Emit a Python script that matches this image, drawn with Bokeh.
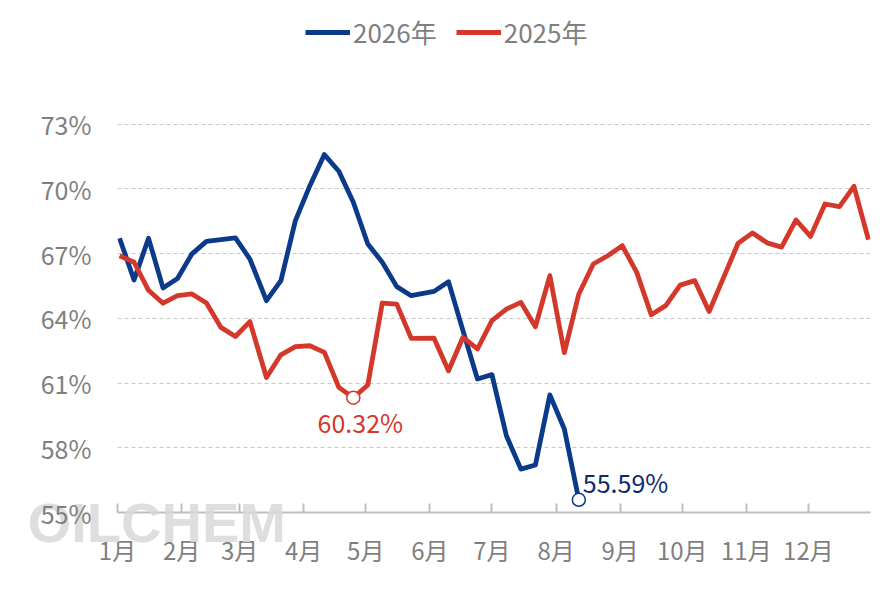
from bokeh.plotting import figure
from bokeh.models import (Range1d, FixedTicker, Legend, LegendItem, ColumnDataSource, LinearAxis)
from bokeh.core.properties import value
from bokeh.embed import file_html
from bokeh.resources import INLINE

# ---- data ----
days = [1, 8, 15, 22, 29, 36, 43, 50, 57, 64, 72, 79, 86, 93, 100, 107, 114, 121,
        128, 135, 142, 153, 160, 167, 174, 181, 188, 195, 202, 209, 216, 223, 230,
        237, 244, 251, 258, 265, 272, 279, 286, 293, 300, 307, 314, 321, 328, 335,
        342, 349, 356, 363]

rate_2025 = [66.90, 66.60, 65.30, 64.70, 65.05, 65.13, 64.71, 63.58, 63.16, 63.85,
             61.26, 62.31, 62.69, 62.73, 62.42, 60.80, 60.32, 60.91, 64.71, 64.66,
             63.07, 63.08, 61.57, 63.12, 62.58, 63.89, 64.43, 64.74, 63.61, 65.98,
             62.41, 65.13, 66.52, 66.90, 67.37, 66.13, 64.17, 64.59, 65.54, 65.75,
             64.32, 65.90, 67.48, 67.96, 67.50, 67.30, 68.56, 67.80, 69.30, 69.18,
             70.12, 67.65]

rate_2026 = [67.71, 65.78, 67.71, 65.41, 65.85, 66.99, 67.57, 67.65, 67.73, 66.75,
             64.82, 65.75, 68.53, 70.15, 71.59, 70.82, 69.38, 67.45, 66.60, 65.47,
             65.05, 65.25, 65.70, 63.43, 61.19, 61.39, 58.56, 57.01, 57.20, 60.45,
             58.87, 55.59]

month_starts = [0, 31, 59, 90, 120, 151, 181, 212, 243, 273, 304, 334]
month_labels = ["1月", "2月", "3月", "4月", "5月", "6月", "7月", "8月", "9月", "10月", "11月", "12月"]
y_ticks = [55, 58, 61, 64, 67, 70, 73]
series_names = ["2026年", "2025年"]
watermark = "OILCHEM"

BLUE = "#0b3a8a"
RED = "#d3382a"
GREY = "#7f7f7f"
FONT = "Noto Sans CJK SC"

# frame spans from the legend row down to the 55% line (headroom above 73% holds the legend)
p = figure(width=886, height=590, output_backend="svg", toolbar_location=None,
           x_range=Range1d(0, 364), y_range=Range1d(55, 78.27),
           min_border_left=117, min_border_right=16, min_border_top=10, min_border_bottom=78)
p.outline_line_color = None
p.background_fill_color = "white"

l_blue = p.line(days[:len(rate_2026)], rate_2026, line_color=BLUE, line_width=4.8, line_join="round")
l_red = p.line(days, rate_2025, line_color=RED, line_width=4.8, line_join="round")

# annotated points
i_min = rate_2025.index(min(rate_2025))
red_pt = ColumnDataSource(dict(x=[days[i_min]], y=[rate_2025[i_min]],
                               t=[f"{rate_2025[i_min]:.2f}%"]))
i_last = len(rate_2026) - 1
blue_pt = ColumnDataSource(dict(x=[days[i_last]], y=[rate_2026[i_last]],
                                t=[f"{rate_2026[i_last]:.2f}%"]))

p.scatter("x", "y", source=red_pt, size=13, fill_color="white", line_color=RED, line_width=1.5)
p.scatter("x", "y", source=blue_pt, size=13, fill_color="white", line_color=BLUE, line_width=1.5)
p.text("x", "y", text="t", source=red_pt, text_align="center", text_baseline="middle",
       x_offset=7, y_offset=24, text_font=value(FONT), text_font_size="25px", text_color=RED)
p.text("x", "y", text="t", source=blue_pt, text_align="left", text_baseline="middle",
       x_offset=4, y_offset=-18, text_font=value(FONT), text_font_size="25px", text_color="#0d2a6e")

# axes
xa = p.xaxis[0]
xa.ticker = FixedTicker(ticks=month_starts)
xa.major_label_overrides = {m: l for m, l in zip(month_starts, month_labels)}
xa.axis_line_color = "#bfbfbf"
xa.axis_line_width = 2
xa.major_tick_line_color = "#bfbfbf"
xa.major_tick_line_width = 2
xa.major_tick_in = 9
xa.major_tick_out = 0
xa.minor_tick_line_color = None
xa.major_label_text_font = FONT
xa.major_label_text_font_size = "24px"
xa.major_label_text_color = GREY
xa.major_label_standoff = 19

ya = p.yaxis[0]
ya.ticker = FixedTicker(ticks=y_ticks)
ya.major_label_overrides = {t: f"{t}%" for t in y_ticks}
ya.axis_line_color = None
ya.major_tick_line_color = None
ya.minor_tick_line_color = None
ya.major_tick_out = 0
ya.major_tick_in = 0
ya.major_label_text_font = FONT
ya.major_label_text_font_size = "25px"
ya.major_label_text_color = GREY
ya.major_label_standoff = 26

# watermark drawn as the single label of a bare extra axis
wm_axis = LinearAxis(ticker=FixedTicker(ticks=[19]), major_label_overrides={19: watermark},
                     axis_line_color=None, major_tick_line_color=None, minor_tick_line_color=None,
                     major_tick_in=0, major_tick_out=0, major_label_standoff=-79,
                     major_label_text_font="Liberation Sans", major_label_text_font_style="bold",
                     major_label_text_font_size="56px", major_label_text_color="#d8d8d8",
                     major_label_text_alpha=0.85)
p.add_layout(wm_axis, "below")

p.xgrid.grid_line_color = None
p.ygrid.grid_line_color = "#c8c8c8"
p.ygrid.grid_line_dash = "4 3"
p.ygrid.grid_line_width = 1

legend = Legend(items=[LegendItem(label=series_names[0], renderers=[l_blue]),
                       LegendItem(label=series_names[1], renderers=[l_red])],
                orientation="horizontal", location=(188, 462),
                label_text_font=FONT, label_text_font_size="26px", label_text_color=GREY,
                glyph_width=45, glyph_height=24, label_standoff=3, spacing=19,
                padding=0, margin=0, border_line_color=None, background_fill_alpha=0)
p.add_layout(legend, "center")

open("out.html", "w").write(file_html(p, INLINE))
